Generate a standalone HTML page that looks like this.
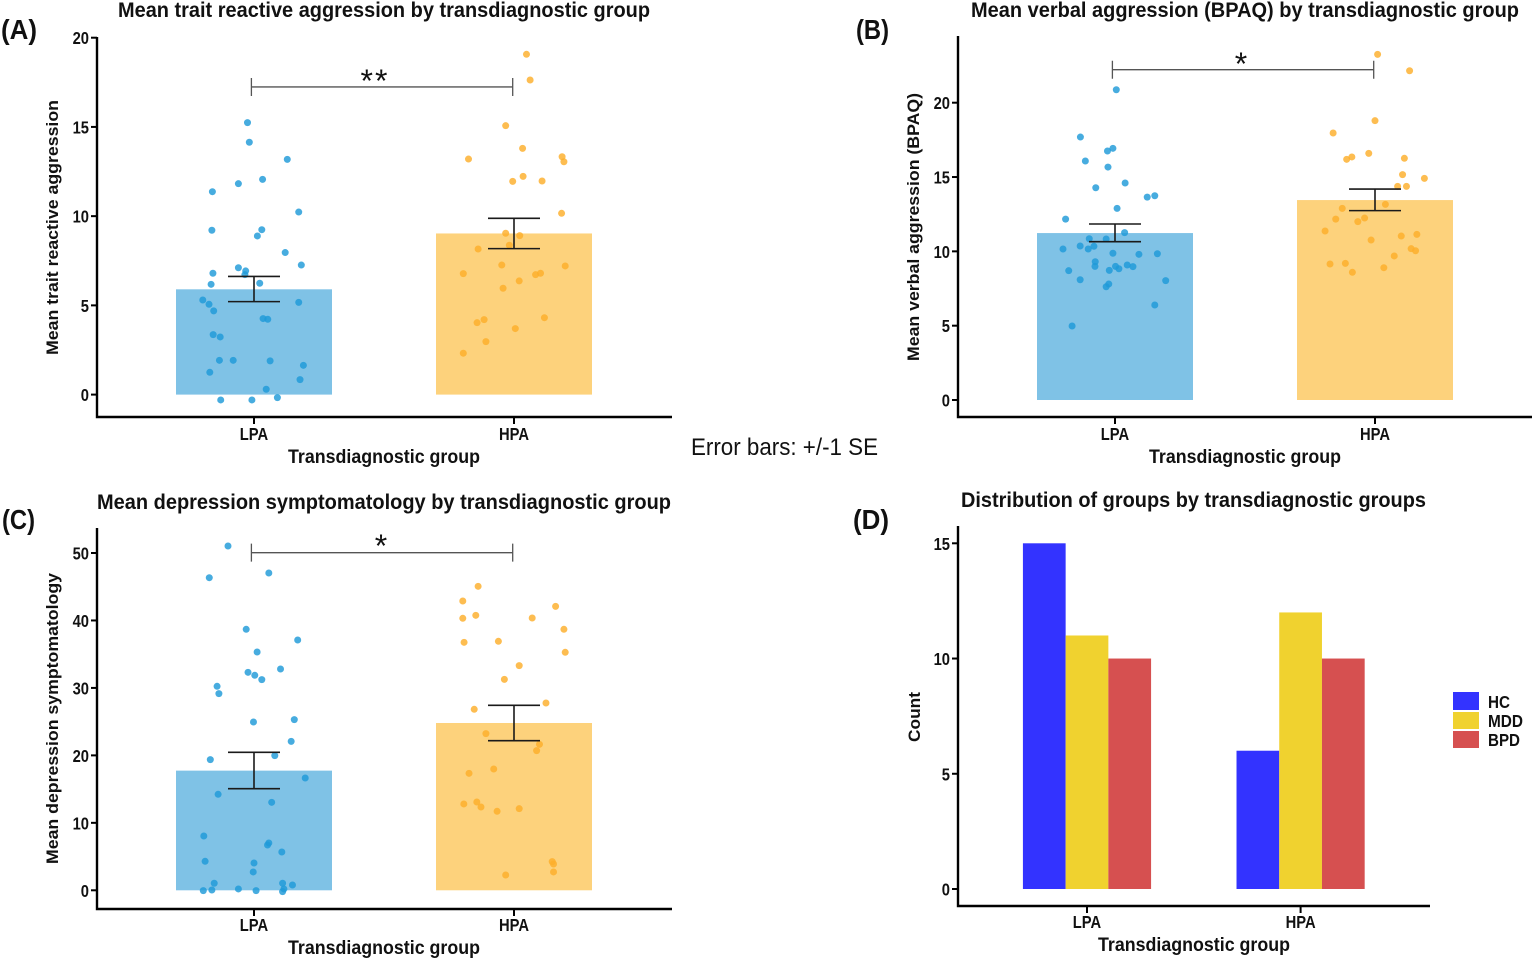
<!DOCTYPE html>
<html lang="en">
<head>
<meta charset="utf-8">
<title>Transdiagnostic group comparisons</title>
<style>
html,body{margin:0;padding:0;background:#fff;}
svg{display:block;filter:blur(0.35px);}
text{font-family:"Liberation Sans",sans-serif;fill:#111;}
.b{font-weight:700;}
</style>
</head>
<body>
<svg id="fig" width="1535" height="961" viewBox="0 0 1535 961" xmlns="http://www.w3.org/2000/svg">
  <rect width="1535" height="961" fill="#fff"/>

  <text class="b" x="1" y="39" font-size="28" textLength="36" lengthAdjust="spacingAndGlyphs">(A)</text>
  <text class="b" x="856" y="39" font-size="28" textLength="33" lengthAdjust="spacingAndGlyphs">(B)</text>
  <text class="b" x="2" y="529" font-size="28" textLength="33" lengthAdjust="spacingAndGlyphs">(C)</text>
  <text class="b" x="853" y="529" font-size="28" textLength="36" lengthAdjust="spacingAndGlyphs">(D)</text>

  <text class="b" x="118" y="17" font-size="21" textLength="532" lengthAdjust="spacingAndGlyphs">Mean trait reactive aggression by transdiagnostic group</text>
  <text class="b" x="971" y="17" font-size="21" textLength="548" lengthAdjust="spacingAndGlyphs">Mean verbal aggression (BPAQ) by transdiagnostic group</text>
  <text class="b" x="97" y="509" font-size="21" textLength="574" lengthAdjust="spacingAndGlyphs">Mean depression symptomatology by transdiagnostic group</text>
  <text class="b" x="961" y="507" font-size="21" textLength="465" lengthAdjust="spacingAndGlyphs">Distribution of groups by transdiagnostic groups</text>

  <text class="b" transform="translate(58,355) rotate(-90)" font-size="17" textLength="255" lengthAdjust="spacingAndGlyphs">Mean trait reactive aggression</text>
  <text class="b" transform="translate(919,361) rotate(-90)" font-size="17" textLength="268" lengthAdjust="spacingAndGlyphs">Mean verbal aggression (BPAQ)</text>
  <text class="b" transform="translate(58,864) rotate(-90)" font-size="17" textLength="291" lengthAdjust="spacingAndGlyphs">Mean depression symptomatology</text>
  <text class="b" transform="translate(920,742) rotate(-90)" font-size="17" textLength="50" lengthAdjust="spacingAndGlyphs">Count</text>

  <text class="b" x="288" y="463" font-size="19.5" textLength="192" lengthAdjust="spacingAndGlyphs">Transdiagnostic group</text>
  <text class="b" x="1149" y="463" font-size="19.5" textLength="192" lengthAdjust="spacingAndGlyphs">Transdiagnostic group</text>
  <text class="b" x="288" y="954" font-size="19.5" textLength="192" lengthAdjust="spacingAndGlyphs">Transdiagnostic group</text>
  <text class="b" x="1098" y="951" font-size="19.5" textLength="192" lengthAdjust="spacingAndGlyphs">Transdiagnostic group</text>

  <text x="691" y="455" font-size="24" fill="#222" textLength="187" lengthAdjust="spacingAndGlyphs">Error bars: +/-1 SE</text>

  <g>
    <rect x="1453" y="692" width="26" height="18" fill="#3333ff"/>
    <rect x="1453" y="712" width="26" height="17" fill="#f0d22f"/>
    <rect x="1453" y="731" width="26" height="17" fill="#d65050"/>
    <text class="b" x="1488" y="708" font-size="17.5" textLength="22" lengthAdjust="spacingAndGlyphs">HC</text>
    <text class="b" x="1488" y="727" font-size="17.5" textLength="35" lengthAdjust="spacingAndGlyphs">MDD</text>
    <text class="b" x="1488" y="746" font-size="17.5" textLength="32" lengthAdjust="spacingAndGlyphs">BPD</text>
  </g>
</svg>

<script>
// ---------- shared categories ----------
var categories = ['LPA', 'HPA'];

// ---------- panel A: trait reactive aggression ----------
var aTicks = [0, 5, 10, 15, 20];
var aMeans = [5.9, 9.03];
var aErrUpper = [6.62, 9.88];
var aErrLower = [5.21, 8.18];
var aLpaValues = [15.24,14.14,13.18,12.06,11.82,11.37,10.23,9.21,9.24,8.89,7.96,7.26,7.11,6.93,6.72,6.8,6.18,6.24,5.3,5.06,5.17,4.69,4.26,4.22,3.36,3.23,1.92,1.92,1.89,1.64,1.25,0.84,0.3,-0.3,-0.3,-0.17];
var aLpaJitter = [-0.025,-0.018,0.128,0.033,-0.06,-0.16,0.172,-0.162,0.03,0.013,0.12,0.182,-0.06,-0.032,-0.035,-0.158,-0.165,0.022,-0.197,-0.173,0.172,-0.155,0.035,0.053,-0.157,-0.13,-0.133,-0.08,0.062,0.19,-0.17,0.177,0.047,-0.128,-0.008,0.09];
var aHpaValues = [19.07,17.63,15.07,13.8,13.2,13.33,13.05,12.23,11.95,11.97,10.16,9.04,8.91,8.37,8.16,7.26,7.21,6.78,6.72,6.8,6.37,5.96,4.31,4.2,4.03,3.7,2.97,2.32];
var aHpaJitter = [0.048,0.062,-0.032,0.033,-0.175,0.185,0.192,0.035,-0.005,0.108,0.183,-0.032,0.022,-0.018,-0.138,-0.047,0.197,-0.195,0.083,0.102,0.02,-0.042,0.117,-0.115,-0.142,0.005,-0.108,-0.195];
var aBracketValue = 17.24;

// ---------- panel B: verbal aggression ----------
var bTicks = [0, 5, 10, 15, 20];
var bMeans = [11.23, 13.45];
var bErrUpper = [11.84, 14.19];
var bErrLower = [10.65, 12.74];
var bLpaValues = [20.87,17.69,16.93,16.75,16.08,15.67,14.6,14.28,13.65,13.74,12.89,12.17,11.26,10.85,10.83,10.16,10.36,10.16,10.34,9.87,9.8,9.84,9.3,8.99,8.99,9.08,8.97,8.7,8.72,8.83,8.09,8.03,7.8,7.62,6.39,4.98];
var bLpaJitter = [0.005,-0.133,-0.008,-0.029,-0.114,-0.027,0.039,-0.074,0.124,0.153,0.008,-0.19,0.037,-0.099,-0.034,-0.2,-0.134,-0.103,-0.081,-0.008,0.092,0.163,-0.076,-0.077,0.002,0.047,0.069,-0.178,-0.022,0.015,-0.134,0.195,-0.024,-0.034,0.153,-0.165];
var bHpaValues = [23.25,22.15,18.79,17.96,16.59,16.35,16.19,16.26,15.16,14.91,14.37,14.37,13.16,12.89,12.17,12.24,12,11.37,11.14,11.03,10.76,10.18,10.04,9.69,9.15,9.19,8.9,8.59];
var bHpaJitter = [0.01,0.133,0,-0.161,-0.024,-0.089,-0.109,0.113,0.106,0.19,0.087,0.121,0.04,-0.126,-0.151,-0.04,-0.066,-0.192,0.161,0.101,-0.015,0.139,0.156,0.074,-0.173,-0.114,0.034,-0.087];
var bBracketValue = 22.22;

// ---------- panel C: depression symptomatology ----------
var cTicks = [0, 10, 20, 30, 40, 50];
var cMeans = [17.74, 24.8];
var cErrUpper = [20.45, 27.42];
var cErrLower = [15.07, 22.18];
var cLpaValues = [51.04,47.04,46.34,38.69,37.1,35.33,32.81,32.31,31.87,31.23,30.24,29.15,24.95,25.3,22.08,19.96,19.37,16.65,14.23,13.04,8.05,7.02,6.72,5.68,4.3,4.05,2.72,1.04,1.04,0.79,0.2,0.2,-0.05,0.05,-0.05,-0.2];
var cLpaJitter = [-0.1,0.057,-0.172,-0.03,0.168,0.012,0.102,-0.023,0.003,0.03,-0.142,-0.135,-0.002,0.155,0.143,0.08,-0.168,0.197,-0.138,0.068,-0.193,0.057,0.052,0.107,-0.188,0,-0.003,-0.153,0.11,0.148,-0.06,0.115,-0.195,-0.162,0.008,0.11];
var cHpaValues = [45.06,42.89,42.09,40.76,40.32,40.37,38.69,36.76,36.91,35.28,33.3,31.27,27.77,26.83,23.22,21.64,20.7,17.98,17.34,12.8,13.09,12.35,11.71,12.1,4.25,3.9,2.72,2.27];
var cHpaJitter = [-0.138,-0.197,0.16,-0.147,-0.197,0.07,0.192,-0.192,-0.06,0.197,0.02,-0.037,0.123,-0.153,-0.108,0.098,0.087,-0.078,-0.173,-0.193,-0.143,-0.127,-0.065,0.02,0.147,0.152,0.152,-0.032];
var cBracketValue = 50.05;

// ---------- panel D: group counts ----------
var dTicks = [0, 5, 10, 15];
var dSeriesNames = ['HC', 'MDD', 'BPD'];
var hcCounts = [15, 6];
var mddCounts = [11, 12];
var bpdCounts = [10, 10];

var NS = 'http://www.w3.org/2000/svg';
var fig = document.getElementById('fig');

function mk(tag, attrs, parent) {
  var el = document.createElementNS(NS, tag);
  for (var k in attrs) el.setAttribute(k, attrs[k]);
  (parent || fig).appendChild(el);
  return el;
}

function makeLinear(d0, p0, d1, p1) {
  return function (v) { return p0 + (v - d0) * (p1 - p0) / (d1 - d0); };
}

function drawAxes(g, p, ticks, y, x, key) {
  var line = mk('path', {d: 'M' + p.left + ' ' + p.top + 'V' + p.bottom + 'H' + p.right, fill: 'none', stroke: '#000', 'stroke-width': 2.4}, g);
  
  
  ticks.forEach(function (t) {
    var tick = mk('line', {x1: p.left - 6, x2: p.left, y1: y(t), y2: y(t), stroke: '#000', 'stroke-width': 2}, g);
    
    
    var lab = mk('text', {transform: 'translate(' + (p.left - 8) + ',' + (y(t) + 6.5) + ') scale(0.82,1)', 'text-anchor': 'end', 'font-size': 18, 'class': 'b'}, g);
    lab.textContent = t;
    
    
  });
  categories.forEach(function (c, i) {
    var tick = mk('line', {x1: x(i), x2: x(i), y1: p.bottom, y2: p.bottom + 7, stroke: '#000', 'stroke-width': 2}, g);
    
    
    var lab = mk('text', {transform: 'translate(' + x(i) + ',' + (p.bottom + p.xLabelGap) + ') scale(0.82,1)', 'text-anchor': 'middle', 'font-size': 18, 'class': 'b'}, g);
    lab.textContent = c;
    
    
  });
}

function drawScatterPanel(key, p, ticks, means, upper, lower, lpaV, lpaJ, hpaV, hpaJ, bracketValue, stars, starX, starY, starSize) {
  var x = makeLinear(0, p.x0, 1, p.x1);
  var y = makeLinear(0, p.y0, p.vRef, p.yRef);
  var g = mk('g', {});
  
  

  var barFill = ['#7fc2e6', '#fdd27c'];
  var dotFill = ['#1f9ad8', '#fdae2b'];

  means.forEach(function (m, i) {
    var bar = mk('rect', {x: x(i - 0.3), width: x(i + 0.3) - x(i - 0.3), y: Math.min(y(m), y(0)), height: Math.abs(y(0) - y(m)), fill: barFill[i]}, g);
    
    
  });

  [[lpaV, lpaJ, 0], [hpaV, hpaJ, 1]].forEach(function (s) {
    s[0].forEach(function (v, j) {
      var dot = mk('circle', {cx: x(s[2] + s[1][j]), cy: y(v), r: 3.5, fill: dotFill[s[2]], 'fill-opacity': 0.82}, g);
      
      
    });
  });

  means.forEach(function (m, i) {
    var cap = 0.1;
    var err = mk('path', {d: 'M' + x(i - cap) + ' ' + y(upper[i]) + 'H' + x(i + cap) + 'M' + x(i) + ' ' + y(upper[i]) + 'V' + y(lower[i]) + 'M' + x(i - cap) + ' ' + y(lower[i]) + 'H' + x(i + cap), fill: 'none', stroke: '#1a1a1a', 'stroke-width': 1.6}, g);
    
    
  });

  var by = y(bracketValue);
  var bl = x(-0.01), br = x(0.995);
  var bracket = mk('path', {d: 'M' + bl + ' ' + (by - 9) + 'V' + (by + 9) + 'M' + bl + ' ' + by + 'H' + br + 'M' + br + ' ' + (by - 9) + 'V' + (by + 9), fill: 'none', stroke: '#555', 'stroke-width': 1.3}, g);
  
  
  var star = mk('text', {x: starX, y: starY, 'text-anchor': 'middle', 'font-size': starSize, fill: '#111', 'letter-spacing': 2}, g);
  star.textContent = stars;
  
  

  drawAxes(g, p, ticks, y, x, key);
}

drawScatterPanel('a', {left: 97, top: 37, bottom: 417, right: 672, x0: 254, x1: 514, y0: 394.6, yRef: 37.7, vRef: 20, xLabelGap: 23},
  aTicks, aMeans, aErrUpper, aErrLower, aLpaValues, aLpaJitter, aHpaValues, aHpaJitter, aBracketValue, '**', 375, 92, 32);
drawScatterPanel('b', {left: 958, top: 36, bottom: 417, right: 1532, x0: 1115, x1: 1375, y0: 400, yRef: 102.7, vRef: 20, xLabelGap: 23},
  bTicks, bMeans, bErrUpper, bErrLower, bLpaValues, bLpaJitter, bHpaValues, bHpaJitter, bBracketValue, '*', 1242, 75, 32);
drawScatterPanel('c', {left: 97, top: 528, bottom: 909, right: 672, x0: 254, x1: 514, y0: 890.3, yRef: 553, vRef: 50, xLabelGap: 22},
  cTicks, cMeans, cErrUpper, cErrLower, cLpaValues, cLpaJitter, cHpaValues, cHpaJitter, cBracketValue, '*', 382, 557, 32);

// Panel D grouped bars
(function () {
  var p = {left: 958, top: 526, bottom: 906, right: 1430, xLabelGap: 22};
  var x = makeLinear(0, 1087, 1, 1300.6);
  var y = makeLinear(0, 889, 15, 543.3);
  var g = mk('g', {});
  
  
  var series = [hcCounts, mddCounts, bpdCounts];
  var colors = ['#3333ff', '#f0d22f', '#d65050'];
  var barWidth = 0.2;
  series.forEach(function (vals, s) {
    vals.forEach(function (v, i) {
      var x0 = x(i + (s - 1.5) * barWidth);
      var x1 = x(i + (s - 0.5) * barWidth);
      var bar = mk('rect', {x: x0, width: x1 - x0, y: y(v), height: y(0) - y(v), fill: colors[s]}, g);
      
      
    });
  });
  drawAxes(g, p, dTicks, y, x, 'd');
})();
</script>
</body>
</html>
